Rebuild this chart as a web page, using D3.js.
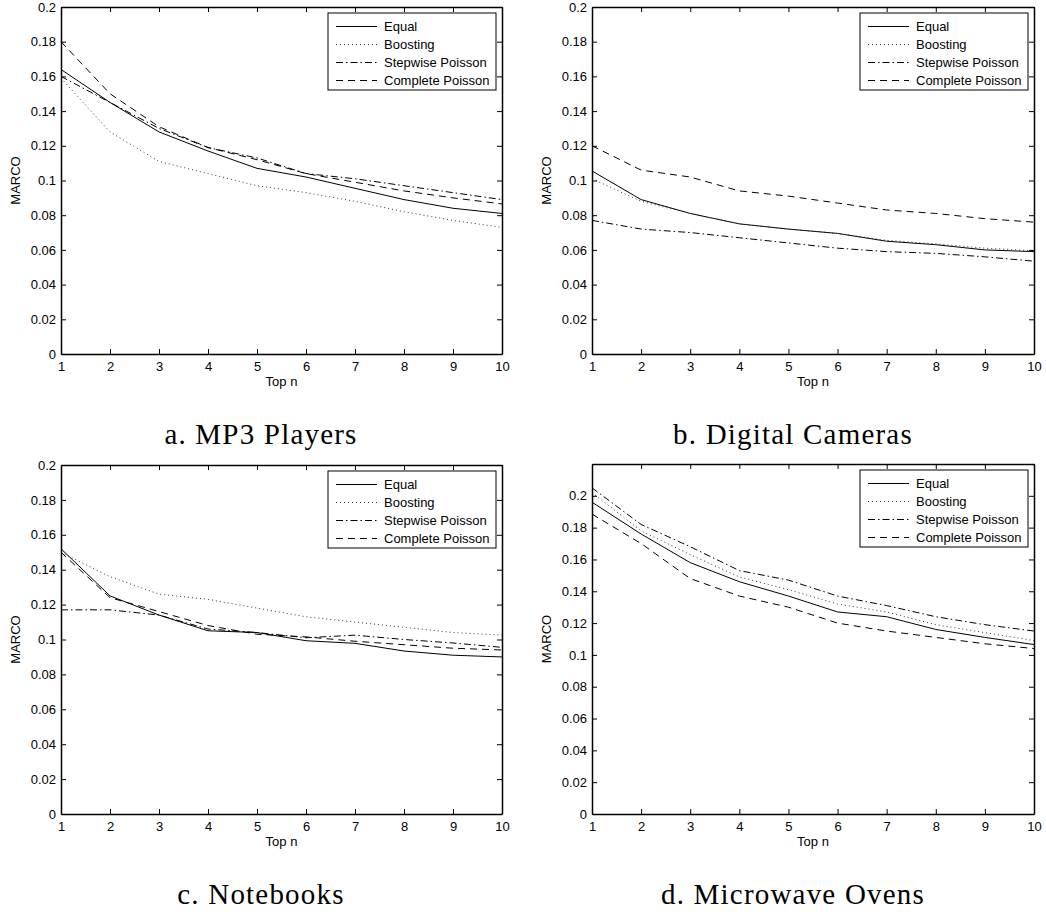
<!DOCTYPE html>
<html>
<head>
<meta charset="utf-8">
<script src="https://cdn.jsdelivr.net/npm/d3@7"></script>
<style>
  body { margin: 0; background: #fff; }
  svg text { font-family: "Liberation Sans", Arial, sans-serif; }
  svg text.caption { font-family: "Liberation Serif", "Times New Roman", serif; }
</style>
</head>
<body>
<script>
// x values shared by all panels
const topN = [1, 2, 3, 4, 5, 6, 7, 8, 9, 10];
const methods = ['Equal', 'Boosting', 'Stepwise Poisson', 'Complete Poisson'];

// a. MP3 Players
const mp3Equal    = [0.164, 0.145, 0.128, 0.117, 0.107, 0.102, 0.0955, 0.089, 0.084, 0.081];
const mp3Boost    = [0.159, 0.128, 0.111, 0.104, 0.097, 0.093, 0.088, 0.082, 0.077, 0.073];
const mp3Stepwise = [0.160, 0.145, 0.130, 0.119, 0.113, 0.104, 0.101, 0.097, 0.093, 0.089];
const mp3Complete = [0.180, 0.150, 0.131, 0.119, 0.112, 0.104, 0.099, 0.094, 0.090, 0.0865];

// b. Digital Cameras
const camEqual    = [0.1055, 0.089, 0.081, 0.075, 0.072, 0.0695, 0.065, 0.063, 0.060, 0.059];
const camBoost    = [0.101, 0.088, 0.081, 0.075, 0.072, 0.0695, 0.0655, 0.0635, 0.061, 0.0595];
const camStepwise = [0.077, 0.072, 0.070, 0.067, 0.064, 0.061, 0.059, 0.058, 0.056, 0.0535];
const camComplete = [0.120, 0.106, 0.102, 0.094, 0.091, 0.087, 0.083, 0.081, 0.078, 0.076];

// c. Notebooks
const nbEqual    = [0.152, 0.125, 0.114, 0.105, 0.104, 0.0993, 0.0978, 0.0934, 0.091, 0.090];
const nbBoost    = [0.150, 0.136, 0.126, 0.123, 0.118, 0.113, 0.110, 0.107, 0.104, 0.1025];
const nbStepwise = [0.117, 0.117, 0.114, 0.106, 0.104, 0.101, 0.1025, 0.100, 0.098, 0.0955];
const nbComplete = [0.150, 0.124, 0.116, 0.108, 0.103, 0.1015, 0.099, 0.097, 0.095, 0.094];

// d. Microwave Ovens
const mwEqual    = [0.196, 0.176, 0.158, 0.146, 0.137, 0.127, 0.124, 0.116, 0.111, 0.1065];
const mwBoost    = [0.202, 0.178, 0.163, 0.149, 0.141, 0.132, 0.127, 0.119, 0.114, 0.109];
const mwStepwise = [0.205, 0.182, 0.168, 0.153, 0.147, 0.137, 0.131, 0.124, 0.119, 0.115];
const mwComplete = [0.1885, 0.170, 0.148, 0.137, 0.130, 0.120, 0.115, 0.111, 0.107, 0.104];

const yTicks = [0, 0.02, 0.04, 0.06, 0.08, 0.1, 0.12, 0.14, 0.16, 0.18, 0.2];

const panels = [
  {caption: 'a. MP3 Players', left: 61, top: 7, right: 502, bottom: 354, ymax: 0.2, capX: 261,
   series: [mp3Equal, mp3Boost, mp3Stepwise, mp3Complete]},
  {caption: 'b. Digital Cameras', left: 592, top: 7, right: 1034, bottom: 354, ymax: 0.2, capX: 793,
   series: [camEqual, camBoost, camStepwise, camComplete]},
  {caption: 'c. Notebooks', left: 61, top: 465, right: 502, bottom: 814, ymax: 0.2, capX: 261,
   series: [nbEqual, nbBoost, nbStepwise, nbComplete]},
  {caption: 'd. Microwave Ovens', left: 592, top: 464, right: 1034, bottom: 814, ymax: 0.22, capX: 793,
   series: [mwEqual, mwBoost, mwStepwise, mwComplete]}
];

// line styles per method: solid, dotted, dash-dot, dashed
const dashes = [null, '1,3', '7,3,1.5,3', '7,5'];
const strokes = ['#000', '#333', '#000', '#000'];

const svg = d3.select('body').append('svg')
    .attr('width', 1046)
    .attr('height', 912);

function fmt(d) {
  return d === 0 ? '0' : String(+d.toFixed(2));
}

function drawPanel(p) {
  const width = p.right - p.left;
  const height = p.bottom - p.top;
  const g = svg.append('g')
      .attr('transform', `translate(${p.left},${p.top})`);
  const xScale = d3.scaleLinear().domain([1, 10]).range([0, width]);
  const yScale = d3.scaleLinear().domain([0, p.ymax]).range([height, 0]);

  // lines first, axes on top
  const line = d3.line()
      .x((d, i) => xScale(topN[i]))
      .y(d => yScale(d));
  p.series.forEach((s, i) => {
    g.append('path')
      .datum(s)
      .attr('fill', 'none')
      .attr('stroke', strokes[i])
      .attr('stroke-width', 1)
      .attr('stroke-dasharray', dashes[i])
      .attr('d', line);
  });

  // axes with inward ticks on all four sides
  const xb = g.append('g')
      .attr('transform', `translate(0,${height})`)
      .call(d3.axisBottom(xScale).tickValues(topN).tickSize(-5).tickSizeOuter(0)
            .tickPadding(8).tickFormat(d3.format('d')));
  const yl = g.append('g')
      .call(d3.axisLeft(yScale).tickValues(yTicks).tickSize(-5).tickSizeOuter(0)
            .tickPadding(5).tickFormat(fmt));
  const xt = g.append('g')
      .call(d3.axisTop(xScale).tickValues(topN).tickSize(-5).tickSizeOuter(0).tickFormat(''));
  const yr = g.append('g')
      .attr('transform', `translate(${width},0)`)
      .call(d3.axisRight(yScale).tickValues(yTicks).tickSize(-5).tickSizeOuter(0).tickFormat(''));
  [xb, yl, xt, yr].forEach(a => {
    a.select('.domain').attr('stroke-width', 1.5);
    a.selectAll('.tick line').attr('stroke-width', 1);
    a.selectAll('text').attr('font-size', 13).attr('fill', '#000')
      .style('font-family', '"Liberation Sans", Arial, sans-serif');
  });

  g.append('text')
    .attr('x', width / 2)
    .attr('y', height + 32)
    .attr('text-anchor', 'middle')
    .attr('font-size', 13)
    .text('Top n');
  g.append('text')
    .attr('transform', `translate(${-41},${height / 2}) rotate(-90)`)
    .attr('text-anchor', 'middle')
    .attr('font-size', 13)
    .text('MARCO');

  // legend
  const lg = g.append('g')
      .attr('transform', `translate(${width - 174},6)`);
  lg.append('rect')
    .attr('width', 168)
    .attr('height', 77)
    .attr('fill', '#fff')
    .attr('stroke', '#000')
    .attr('stroke-width', 1);
  methods.forEach((m, i) => {
    const yy = 13.5 + i * 18;
    lg.append('line')
      .attr('x1', 8).attr('x2', 49)
      .attr('y1', yy).attr('y2', yy)
      .attr('stroke', strokes[i])
      .attr('stroke-width', 1)
      .attr('stroke-dasharray', dashes[i]);
    lg.append('text')
      .attr('x', 56)
      .attr('y', yy)
      .attr('dy', '0.35em')
      .attr('font-size', 13)
      .text(m);
  });

  // caption under the panel
  svg.append('text')
    .attr('class', 'caption')
    .attr('x', p.capX)
    .attr('y', p.bottom + 90)
    .attr('text-anchor', 'middle')
    .attr('font-size', 29)
    .attr('letter-spacing', 1.2)
    .text(p.caption);
}

panels.forEach(drawPanel);
</script>
</body>
</html>
